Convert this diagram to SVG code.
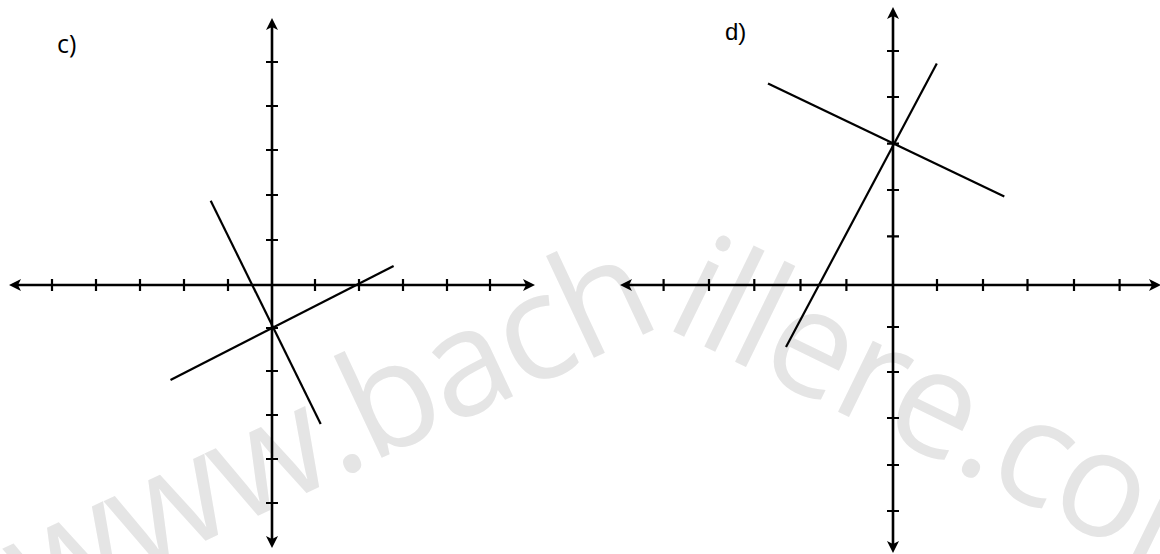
<svg xmlns="http://www.w3.org/2000/svg" width="1160" height="554" viewBox="0 0 1160 554">
  <style>
    .wm { font-family: "Open Sans", "Noto Sans", sans-serif; font-size: 148px; letter-spacing: -3px; fill: #e5e5e5; }
    .axis { stroke: #000; stroke-width: 2.6; fill: none; }
    .tick { stroke: #000; stroke-width: 2.2; fill: none; }
    .ln { stroke: #000; stroke-width: 2.2; fill: none; stroke-linecap: butt; }
    .lblc { font-family: "Open Sans", "Noto Sans", sans-serif; font-size: 25px; fill: #000; }
    .lbld { font-family: "Liberation Sans", Arial, sans-serif; font-size: 24px; fill: #000; }
  </style>
  <defs>
    <marker id="arr" markerUnits="userSpaceOnUse" markerWidth="13" markerHeight="13" refX="3" refY="6" orient="auto-start-reverse">
      <path d="M0,0 L12,6 L0,12 L3,6 Z" fill="#000"/>
    </marker>
  </defs>
  <rect width="1160" height="554" fill="#fff"/>

  <g id="watermark">
    <text class="wm" text-anchor="end" transform="translate(662,326) rotate(-25.2)">www.bach</text>
    <text class="wm" text-anchor="start" transform="translate(662,326) rotate(26)">illere.com</text>
  </g>

  <g id="graph-c">
    <text class="lblc" x="57" y="53">c)</text>
    <g id="axes-c">
      <line class="axis" x1="18" y1="285" x2="526" y2="285" marker-start="url(#arr)" marker-end="url(#arr)"/>
      <line class="axis" x1="272" y1="27" x2="272" y2="539" marker-start="url(#arr)" marker-end="url(#arr)"/>
    </g>
    <g id="ticks-c" class="tick">
      <path d="M52,279v12 M96,279v12 M140,279v12 M184,279v12 M228,279v12 M315,279v12 M359,279v12 M403,279v12 M447,279v12 M490,279v12"/>
      <path d="M266,62h12 M266,106h12 M266,150h12 M266,195h12 M266,240h12 M266,328h12 M266,371h12 M266,415h12 M266,459h12 M266,503h12"/>
    </g>
    <g id="lines-c">
      <line class="ln" x1="210.7" y1="200.7" x2="320.7" y2="424"/>
      <line class="ln" x1="170.5" y1="380" x2="393.6" y2="266"/>
    </g>
  </g>

  <g id="graph-d">
    <text class="lbld" x="725" y="40">d)</text>
    <g id="axes-d">
      <line class="axis" x1="629" y1="285" x2="1152" y2="285" marker-start="url(#arr)" marker-end="url(#arr)"/>
      <line class="axis" x1="893" y1="16" x2="893" y2="544" marker-start="url(#arr)" marker-end="url(#arr)"/>
    </g>
    <g id="ticks-d" class="tick">
      <path d="M663.6,279v12 M709,279v12 M754.3,279v12 M800.5,279v12 M846.4,279v12 M937,279v12 M983,279v12 M1027.5,279v12 M1074,279v12 M1119.6,279v12"/>
      <path d="M887,51h12 M887,97h12 M887,143.6h12 M887,190h12 M887,236.4h12 M887,327h12 M887,372h12 M887,418h12 M887,465h12 M887,511h12"/>
    </g>
    <g id="lines-d">
      <line class="ln" x1="786" y1="347" x2="936.8" y2="63.5"/>
      <line class="ln" x1="768" y1="83.5" x2="1004.3" y2="196.4"/>
    </g>
  </g>
</svg>
